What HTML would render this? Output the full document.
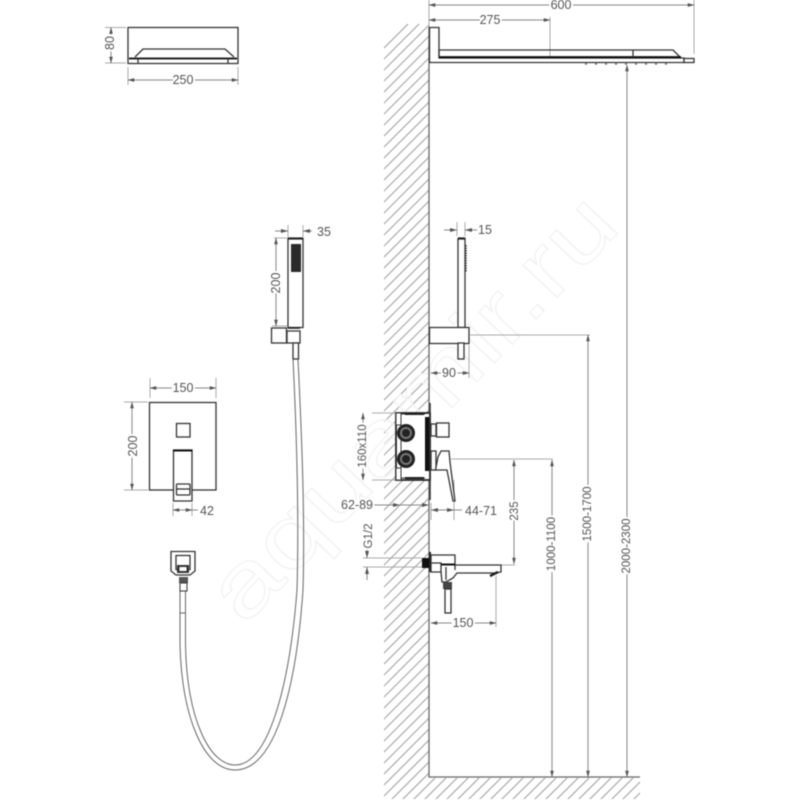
<!DOCTYPE html>
<html><head><meta charset="utf-8"><style>
html,body{margin:0;padding:0;background:#fff;width:800px;height:800px;overflow:hidden}
svg{display:block;filter:blur(.45px)}
text{font-family:"Liberation Sans",sans-serif;font-size:12.500px;fill:#555;stroke:#fff;stroke-width:4px;paint-order:stroke;text-anchor:middle;dominant-baseline:central}
text.v{font-size:11.500px}
text.wm{font-size:88px;fill:#fff;fill-opacity:.55;stroke:#f2f2f2;stroke-width:1.200px;paint-order:normal;text-anchor:start}
.d{stroke:#888;stroke-width:1;fill:none}
.a{stroke:#888;stroke-width:1;fill:none;marker-start:url(#m);marker-end:url(#m)}
.e{stroke:#aaa;stroke-width:1;fill:none}
.k{stroke:#333;stroke-width:1.300;fill:#fff}
.n{stroke:#333;stroke-width:1.300;fill:none}
.h{stroke:#666;stroke-width:1;fill:none}
.t{stroke:#222;stroke-width:2.200;fill:none}
</style></head><body>
<svg width="800" height="800" viewBox="0 0 800 800" xmlns="http://www.w3.org/2000/svg">
<defs>
<marker id="m" viewBox="0 0 8 6" refX="7.500" refY="3" markerWidth="7" markerHeight="5" markerUnits="userSpaceOnUse" orient="auto-start-reverse"><path d="M0,0.800L8,3L0,5.200z" fill="#555"/></marker>
<clipPath id="w"><path d="M429,24H405L384,45V799H640V778H429z"/></clipPath>
</defs>
<rect width="800" height="800" fill="#fff"/>

<!-- wall hatch -->
<path clip-path="url(#w)" fill="none" stroke="#a2a2a2" stroke-width="1.100" d="M410 0L0 410M421 0L0 421M432 0L0 432M443 0L0 443M454 0L0 454M465 0L0 465M476 0L0 476M487 0L0 487M498 0L0 498M509 0L0 509M520 0L0 520M531 0L0 531M542 0L0 542M553 0L0 553M564 0L0 564M575 0L0 575M586 0L0 586M597 0L0 597M608 0L0 608M619 0L0 619M630 0L0 630M641 0L0 641M652 0L0 652M663 0L0 663M674 0L0 674M685 0L0 685M696 0L0 696M707 0L0 707M718 0L0 718M729 0L0 729M740 0L0 740M751 0L0 751M762 0L0 762M773 0L0 773M784 0L0 784M795 0L0 795M800 6L6 800M800 17L17 800M800 28L28 800M800 39L39 800M800 50L50 800M800 61L61 800M800 72L72 800M800 83L83 800M800 94L94 800M800 105L105 800M800 116L116 800M800 127L127 800M800 138L138 800M800 149L149 800M800 160L160 800M800 171L171 800M800 182L182 800M800 193L193 800M800 204L204 800M800 215L215 800M800 226L226 800M800 237L237 800M800 248L248 800M800 259L259 800M800 270L270 800M800 281L281 800M800 292L292 800M800 303L303 800M800 314L314 800M800 325L325 800M800 336L336 800M800 347L347 800M800 358L358 800M800 369L369 800M800 380L380 800M800 391L391 800M800 402L402 800M800 413L413 800M800 424L424 800M800 435L435 800M800 446L446 800M800 457L457 800M800 468L468 800M800 479L479 800M800 490L490 800M800 501L501 800M800 512L512 800M800 523L523 800M800 534L534 800M800 545L545 800M800 556L556 800M800 567L567 800M800 578L578 800M800 589L589 800M800 600L600 800M800 611L611 800M800 622L622 800M800 633L633 800"/>
<text class="wm" transform="translate(222,606) rotate(-46.500)" textLength="550" lengthAdjust="spacingAndGlyphs">aquamir.ru</text>
<rect x="396" y="413" width="34" height="67" fill="#fff"/>
<path d="M429,27V777H640" fill="none" stroke="#666" stroke-width="1.300"/>

<!-- top shower side -->
<path class="e" d="M429,0V27M694,0V54M550,17V62"/>
<path class="a" d="M429,5H694"/><text x="561" y="5">600</text>
<path class="a" d="M429,20H550"/><text x="490" y="20">275</text>
<path class="k" d="M429.500,27.500H439V58H684V62.500H429.500z"/>
<path class="n" d="M439,50H673L680,57"/><path d="M439,57.300H681" stroke="#111" stroke-width="2.400" fill="none"/>
<path class="n" d="M439,50V57M633,50V57"/><rect class="k" x="684" y="58.500" width="10" height="4"/>
<path d="M585,64H675" stroke="#555" stroke-width="1.200" stroke-dasharray="2 8"/>

<!-- top left view -->
<rect class="n" x="128" y="27.500" width="110" height="36"/>
<path class="n" d="M135,57L143,49H225L234,57"/><path d="M129,58.500H237" stroke="#222" stroke-width="2"/>
<path class="n" d="M138,63.500V58M228,63.500V58"/>
<path class="e" d="M105,27.500H126M105,63H126M128,67V85M238,67V85"/>
<path class="a" d="M111,27.500V63"/><text x="110" y="43" transform="rotate(-90 110 43)">80</text>
<path class="a" d="M128,80H238"/><text x="183" y="80">250</text>

<!-- hand shower front -->
<path class="e" d="M288,225V237M303,225V237M274,238H287M272,326H287"/>
<path class="d" d="M275,231H288M303,231H312"/>
<path d="M288,231l-7,-2v4zM303,231l7,-2v4z" fill="#555"/>
<text x="324" y="232">35</text>
<path class="a" d="M276,238V326"/><text x="276" y="283" transform="rotate(-90 276 283)">200</text>
<rect class="k" x="288" y="238.500" width="15" height="89"/><path class="t" d="M288,238.500H303"/>
<rect x="291" y="244" width="10" height="28" fill="#2a2a2a"/>
<rect class="k" stroke-width="1.600" x="271.500" y="328" width="15" height="15"/>
<path class="k" d="M287,331H300V343H287z"/>
<path d="M288,328H300" stroke="#222" stroke-width="1.600"/>
<rect class="k" x="293" y="343" width="5.500" height="16"/>

<!-- hose -->
<path class="h" d="M298,359C302,440 305,520 303,590C296,690 275,770 235,770C205,770 182,720 180,645V590"/>
<path class="h" d="M293,359C297,440 299,520 297,590C290,680 270,765 235,765C210,765 187,720 185.500,645V590"/>
<path class="h" d="M180,613H186"/>

<!-- valve plate -->
<path class="e" d="M150,378V398M216,378V398M124,402H148M124,490H148M173,503V516M192,503V516"/>
<path class="a" d="M150,388H216"/><text x="183" y="388">150</text>
<path class="a" d="M132,402V490"/><text x="133" y="446" transform="rotate(-90 133 446)">200</text>
<path class="a" d="M173,510H192"/><path class="d" d="M192,510H198"/><text x="207" y="511">42</text>
<rect class="k" x="149.500" y="402.500" width="66.500" height="87.500"/>
<rect class="k" stroke-width="1.500" x="176.500" y="423.500" width="13.500" height="13.500"/>
<path class="k" d="M173.500,450H192V501H173.500z"/><path d="M173,450.500H192.500" stroke="#111" stroke-width="2"/>
<rect class="k" stroke-width="1.800" x="176.500" y="484" width="13.500" height="11" rx="1"/>
<path class="n" d="M177,489H190"/>

<!-- elbow -->
<path class="k" d="M171,571V551.500H195V571L190,575H176z"/>
<rect class="k" x="176" y="555.500" width="14" height="14"/>
<path d="M177,565H189V573H177z" fill="#333"/><rect x="179.500" y="567" width="7" height="4" fill="#fff"/>
<rect x="179" y="577" width="9" height="6" fill="#555"/><rect x="180" y="583" width="7" height="8" fill="#fff" stroke="#333"/>

<!-- hand shower side -->
<path class="e" d="M457,222V236M465,222V236"/>
<path d="M444,230H457M465,230H478" class="d"/><path d="M457,230l-7,-2v4zM465,230l7,-2v4z" fill="#555"/>
<text x="485" y="230">15</text>
<rect class="k" x="458" y="238.500" width="7" height="89"/><path class="t" d="M458,238.500H465"/>
<path d="M466,245V272" stroke="#333" stroke-width="1.400" stroke-dasharray="1.500 1"/>
<rect class="k" stroke-width="1.400" x="429.500" y="327.500" width="39.500" height="16"/>
<rect class="k" x="458" y="343" width="6" height="16"/>
<path class="e" d="M469,345V378M470,335H590"/>
<path class="a" d="M431,373H469"/><text x="449" y="373">90</text>

<!-- valve side -->
<path class="e" d="M372,413H397M372,480H397M431,503V520M454,480V520M451,459H553M445,565H515"/>
<path class="a" d="M363,413V480"/><text class="v" x="363" y="446" transform="rotate(-90 363 446)">160x110</text>
<path d="M396,413H430V480H396z" fill="#fff" stroke="#222" stroke-width="1.800"/>
<path d="M401,414V479M401,414H425M401,478H425" stroke="#333" fill="none"/>
<rect x="396" y="413" width="5" height="12" fill="#fff" stroke="#333"/>
<rect x="396" y="468" width="5" height="12" fill="#fff" stroke="#333"/>
<path d="M405,414H424M405,478H424" stroke="#222" stroke-width="2"/>
<rect x="425" y="417" width="5" height="54" fill="#111"/>
<circle cx="406" cy="433" r="9" fill="#222"/><circle cx="406" cy="433" r="6" fill="#777"/><circle cx="406" cy="433" r="4" fill="#222"/>
<circle cx="406" cy="459" r="9" fill="#222"/><circle cx="406" cy="459" r="6" fill="#777"/><circle cx="406" cy="459" r="4" fill="#222"/>
<path d="M430,403V500" stroke="#333" stroke-width="1.500"/>
<rect class="k" x="431" y="424" width="5" height="12"/>
<rect class="k" stroke-width="1.500" x="436.500" y="423" width="12.500" height="14"/>
<rect class="k" x="431" y="451" width="5" height="19"/>
<path class="k" d="M435.500,470L438,457L441,451H449L450,462L455,501H453L447,470z"/>
<path class="d" d="M431,510H462"/><path d="M431,510l7,-2v4zM454,510l-7,-2v4z" fill="#555"/>
<text x="481" y="511">44-71</text>
<path class="d" d="M373,505H429"/><path d="M400,505l-7,-2v4zM429,505l-7,-2v4z" fill="#555"/>
<text x="357" y="505">62-89</text>

<!-- vertical dims -->
<path class="a" d="M514,460V564"/><text class="v" x="515" y="511" transform="rotate(-90 515 511)">235</text>
<path class="a" d="M552,460V777"/><text class="v" x="552" y="544" transform="rotate(-90 552 544)">1000-1100</text>
<path class="a" d="M588,335V777"/><text class="v" x="588" y="514" transform="rotate(-90 588 514)">1500-1700</text>
<path class="a" d="M627,65V777"/><text class="v" x="627" y="546" transform="rotate(-90 627 546)">2000-2300</text>

<!-- bath spout -->
<path class="e" d="M363,558H422M363,567H422M496,576V627"/>
<path class="d" d="M367,545V558M367,567V580"/><path d="M367,558l-2,-7h4zM367,567l-2,7h4z" fill="#555"/>
<text class="v" x="369" y="536" transform="rotate(-90 369 536)">G1/2</text>
<rect x="422" y="558" width="7.500" height="10" fill="#111"/>
<path d="M430,552V572" stroke="#222" stroke-width="2"/>
<path class="k" d="M431,555H455V565H501V572L495,573H457L453,578L446,582H442L441,572H431z"/>
<path class="n" d="M431,563H441V572M446,567V580M455,565V570"/>
<path d="M441,564.500H455" stroke="#111" stroke-width="2"/>
<path d="M490,576L498,572" stroke="#222" stroke-width="2.400"/>
<rect x="443" y="582" width="9" height="7" fill="#444"/>
<rect class="k" x="445" y="589" width="6" height="24"/>
<path class="a" d="M431,623H496"/><text x="463" y="623">150</text>
</svg>
</body></html>
